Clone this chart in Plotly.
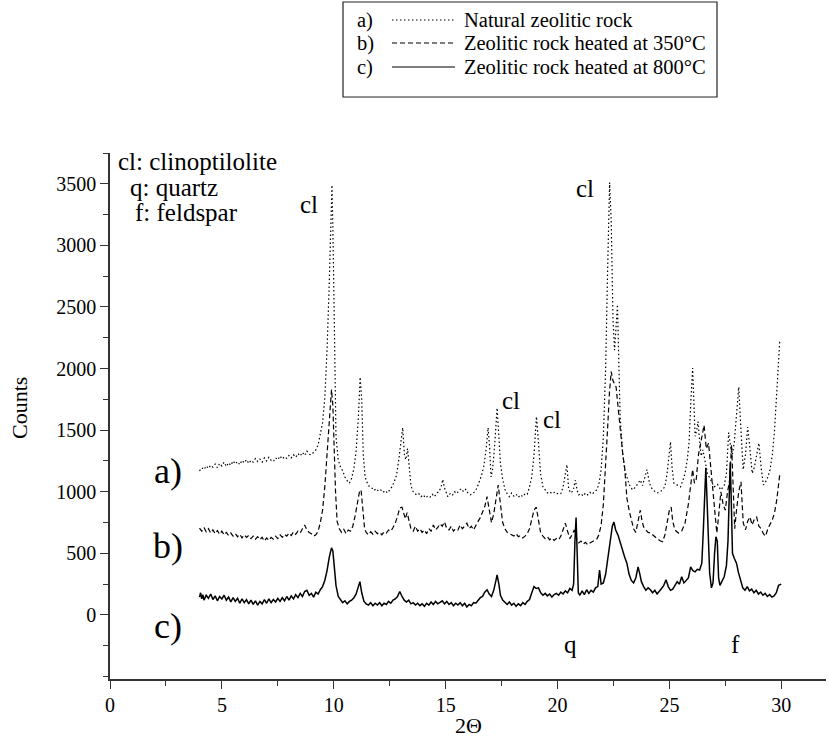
import plotly.graph_objects as go

# ---------------- data ----------------
# a) Natural zeolitic rock (dotted)
x_a = [4.0,4.1,4.2,4.3,4.4,4.5,4.6,4.7,4.8,4.9,5.0,5.1,5.2,5.3,5.4,5.5,5.6,5.7,5.8,5.9,
       6.0,6.1,6.2,6.3,6.4,6.5,6.6,6.7,6.8,6.9,7.0,7.1,7.2,7.3,7.4,7.5,7.6,7.7,7.8,7.9,
       8.0,8.1,8.2,8.3,8.4,8.5,8.6,8.7,8.8,8.9,9.0,9.1,9.2,9.3,9.4,9.5,9.6,9.7,9.8,9.88,
       9.92,9.96,10.0,10.05,10.1,10.2,10.3,10.4,10.5,10.6,10.7,10.8,10.9,11.0,11.1,11.18,11.25,11.32,11.4,11.5,
       11.6,11.7,11.8,11.9,12.0,12.1,12.2,12.3,12.4,12.5,12.6,12.7,12.8,12.9,13.0,13.08,13.16,13.22,13.3,13.38,
       13.45,13.55,13.7,13.8,13.9,14.0,14.1,14.2,14.3,14.4,14.5,14.6,14.7,14.8,14.87,14.95,15.05,15.1,15.2,15.3,
       15.4,15.5,15.6,15.7,15.8,15.9,16.0,16.1,16.2,16.3,16.4,16.5,16.6,16.7,16.8,16.9,16.97,17.03,17.1,17.2,
       17.3,17.38,17.45,17.55,17.65,17.75,17.85,17.95,18.05,18.15,18.25,18.35,18.45,18.55,18.65,18.75,18.85,18.95,19.06,19.15,
       19.24,19.35,19.45,19.55,19.65,19.75,19.85,19.95,20.05,20.15,20.25,20.35,20.42,20.5,20.6,20.7,20.8,20.88,20.95,21.05,
       21.15,21.25,21.35,21.45,21.55,21.65,21.75,21.85,21.95,22.05,22.15,22.24,22.33,22.4,22.48,22.55,22.62,22.68,22.74,22.8,
       22.9,23.0,23.1,23.2,23.35,23.5,23.6,23.7,23.8,23.9,24.0,24.08,24.16,24.3,24.45,24.6,24.7,24.8,24.9,25.05,
       25.12,25.2,25.35,25.5,25.6,25.7,25.8,25.88,25.95,26.04,26.1,26.15,26.22,26.28,26.35,26.42,26.5,26.6,26.7,26.85,
       27.0,27.15,27.3,27.45,27.55,27.65,27.72,27.8,27.9,28.0,28.1,28.17,28.24,28.3,28.4,28.5,28.6,28.7,28.8,28.9,
       29.0,29.1,29.2,29.3,29.4,29.5,29.6,29.7,29.8,29.93,30.0]
y_a = [1170,1195,1180,1210,1190,1215,1200,1225,1195,1230,1210,1240,1205,1235,1215,1250,1225,1245,1220,1255,
       1235,1260,1230,1255,1240,1270,1245,1265,1240,1275,1250,1280,1255,1245,1275,1260,1290,1265,1285,1270,
       1295,1275,1300,1280,1310,1290,1320,1295,1330,1305,1300,1325,1340,1380,1460,1560,1760,2150,2700,3300,
       3490,3150,2600,1900,1450,1260,1200,1170,1120,1090,1070,1110,1190,1330,1600,1930,1750,1300,1120,1070,
       1040,1030,1010,1025,1005,1015,995,1010,990,1015,1040,1080,1130,1250,1420,1520,1300,1260,1350,1200,
       1050,1000,975,985,960,975,950,965,955,980,960,990,1000,1040,1100,1030,980,960,985,970,
       1000,985,1010,1025,1000,1020,990,975,985,1000,1030,1080,1130,1200,1330,1520,1350,1120,1180,1400,
       1680,1450,1230,1100,1020,985,960,990,965,980,955,975,960,985,980,1040,1120,1300,1610,1400,
       1150,1040,1010,990,1000,985,995,980,990,985,1040,1150,1220,1020,990,1010,1095,1010,975,985,
       965,990,975,995,980,1000,1015,1060,1180,1450,1990,2800,3510,3200,2400,2150,2350,2520,2050,1610,
       1340,1180,1120,1060,1015,1040,1070,1095,1050,1120,1180,1100,1040,1010,990,1000,1020,1040,1150,1405,
       1200,1070,1055,1040,1090,1150,1260,1400,1700,2005,1700,1450,1500,1570,1420,1290,1340,1250,1150,1095,
       1040,1060,1015,1050,1150,1480,1370,1285,1400,1650,1850,1600,1300,1180,1300,1525,1350,1150,1200,1300,
       1395,1200,1055,1080,1120,1180,1300,1500,1800,2215,2230]

# b) Zeolitic rock heated at 350 C (dashed)
x_b = [4.0,4.1,4.2,4.3,4.4,4.5,4.6,4.7,4.8,4.9,5.0,5.1,5.2,5.3,5.4,5.5,5.6,5.7,5.8,5.9,
       6.0,6.1,6.2,6.3,6.4,6.5,6.6,6.7,6.8,6.9,7.0,7.1,7.2,7.3,7.4,7.5,7.6,7.7,7.8,7.9,
       8.0,8.1,8.2,8.3,8.4,8.5,8.6,8.7,8.8,8.9,9.0,9.1,9.2,9.3,9.4,9.5,9.6,9.7,9.8,9.9,
       9.96,10.02,10.08,10.15,10.25,10.35,10.45,10.55,10.65,10.75,10.85,10.95,11.05,11.15,11.22,11.3,11.38,11.45,11.55,11.65,
       11.75,11.85,11.95,12.05,12.15,12.25,12.35,12.45,12.55,12.65,12.75,12.85,12.95,13.05,13.12,13.2,13.28,13.36,13.45,13.55,
       13.65,13.75,13.85,13.95,14.05,14.15,14.25,14.35,14.45,14.55,14.65,14.75,14.85,14.95,15.05,15.15,15.25,15.35,15.45,15.55,
       15.65,15.75,15.85,15.95,16.05,16.15,16.25,16.35,16.45,16.55,16.65,16.75,16.85,16.95,17.05,17.15,17.25,17.35,17.45,17.55,
       17.65,17.75,17.85,17.95,18.05,18.15,18.25,18.35,18.45,18.55,18.65,18.75,18.85,18.95,19.05,19.15,19.25,19.35,19.45,19.55,
       19.65,19.75,19.85,19.95,20.05,20.15,20.25,20.35,20.45,20.55,20.65,20.75,20.85,20.95,21.05,21.15,21.25,21.35,21.45,21.55,
       21.65,21.75,21.85,21.95,22.05,22.15,22.25,22.32,22.4,22.48,22.55,22.62,22.7,22.78,22.85,22.92,23.0,23.1,23.2,23.3,
       23.4,23.5,23.6,23.7,23.78,23.85,23.95,24.05,24.16,24.3,24.45,24.6,24.7,24.8,24.9,25.0,25.08,25.15,25.25,25.4,
       25.55,25.7,25.85,25.95,26.04,26.12,26.2,26.3,26.45,26.55,26.65,26.75,26.85,26.95,27.05,27.12,27.2,27.3,27.4,27.5,
       27.6,27.7,27.78,27.85,27.92,28.0,28.1,28.2,28.3,28.4,28.5,28.6,28.7,28.8,28.9,29.0,29.1,29.2,29.3,29.4,
       29.5,29.6,29.7,29.8,29.93,30.0]
y_b = [705,680,710,675,700,665,690,660,685,655,680,650,670,645,665,640,660,635,655,625,
       650,630,645,620,640,615,635,610,630,600,625,605,630,615,640,620,650,630,655,640,
       665,645,675,655,680,665,700,730,690,670,660,640,650,680,750,850,1040,1300,1600,1830,
       1700,1300,1000,760,700,670,695,660,690,680,720,800,900,1000,1015,850,700,670,650,675,
       655,680,660,670,650,675,665,690,680,710,745,800,870,875,820,780,830,760,700,680,
       720,680,700,670,690,660,700,680,730,690,710,740,720,755,700,690,720,680,700,690,
       730,700,720,745,700,720,690,730,760,790,830,880,960,860,750,820,950,1055,900,750,
       700,670,660,650,640,660,635,645,625,640,660,700,770,850,875,780,665,640,620,635,
       610,625,605,620,610,640,690,745,680,620,650,690,620,585,600,575,590,570,585,595,
       600,615,650,730,900,1180,1550,1800,1975,1900,1880,1850,1700,1560,1400,1300,1200,950,850,760,
       700,670,760,850,760,715,690,670,665,640,620,600,595,650,745,850,875,760,690,665,
       680,745,900,1070,1180,1070,1100,1300,1450,1540,1350,1395,1200,1000,800,665,800,1000,900,850,
       1000,1100,1380,1100,700,850,1000,1080,750,690,760,795,730,780,795,720,700,660,640,700,
       740,770,830,935,1135,1140]

# c) Zeolitic rock heated at 800 C (solid)
x_c = [4.0,4.05,4.1,4.15,4.2,4.3,4.4,4.5,4.6,4.7,4.8,4.9,5.0,5.1,5.2,5.3,5.4,5.5,5.6,5.7,
       5.8,5.9,6.0,6.1,6.2,6.3,6.4,6.5,6.6,6.7,6.8,6.9,7.0,7.1,7.2,7.3,7.4,7.5,7.6,7.7,
       7.8,7.9,8.0,8.1,8.2,8.3,8.4,8.5,8.6,8.7,8.8,8.9,9.0,9.1,9.2,9.3,9.4,9.5,9.6,9.7,
       9.8,9.9,9.96,10.02,10.1,10.2,10.3,10.4,10.5,10.6,10.7,10.8,10.9,11.0,11.1,11.17,11.25,11.35,11.45,11.55,
       11.65,11.75,11.85,11.95,12.05,12.15,12.25,12.35,12.45,12.55,12.65,12.75,12.85,12.95,13.05,13.15,13.25,13.35,13.45,13.55,
       13.65,13.75,13.85,13.95,14.05,14.15,14.25,14.35,14.45,14.55,14.65,14.75,14.85,14.95,15.05,15.15,15.25,15.35,15.45,15.55,
       15.65,15.75,15.85,15.95,16.05,16.15,16.25,16.35,16.45,16.55,16.65,16.75,16.85,16.95,17.05,17.15,17.25,17.3,17.38,17.45,
       17.55,17.65,17.75,17.85,17.95,18.05,18.15,18.25,18.35,18.45,18.55,18.65,18.75,18.85,18.95,19.05,19.15,19.25,19.35,19.45,
       19.55,19.65,19.75,19.85,19.95,20.05,20.15,20.25,20.35,20.45,20.55,20.65,20.72,20.78,20.83,20.88,20.93,21.0,21.1,21.2,
       21.3,21.4,21.5,21.6,21.7,21.8,21.88,21.95,22.05,22.15,22.25,22.35,22.45,22.52,22.6,22.7,22.8,22.9,23.0,23.1,
       23.2,23.3,23.4,23.5,23.6,23.67,23.75,23.85,23.95,24.05,24.15,24.25,24.35,24.45,24.55,24.65,24.75,24.85,24.95,25.05,
       25.15,25.25,25.35,25.45,25.55,25.65,25.75,25.85,25.95,26.05,26.15,26.25,26.35,26.45,26.52,26.58,26.63,26.68,26.74,26.8,
       26.88,26.95,27.02,27.08,27.14,27.2,27.26,27.35,27.45,27.55,27.62,27.68,27.72,27.77,27.82,27.9,28.0,28.08,28.18,28.28,
       28.38,28.48,28.58,28.68,28.78,28.88,28.98,29.08,29.18,29.28,29.38,29.48,29.58,29.68,29.78,29.88,30.0]
y_c = [145,180,130,165,120,160,135,170,125,155,115,150,130,160,120,145,105,140,110,135,
       95,130,100,125,90,120,85,115,80,110,90,125,95,130,100,125,105,135,110,140,
       115,150,120,155,130,165,140,175,150,190,200,160,175,145,185,170,205,230,280,360,
       470,545,520,380,240,150,120,100,115,90,110,120,140,170,230,270,180,110,90,80,
       100,75,95,80,100,75,95,85,110,95,120,130,150,190,150,120,105,120,90,100,
       80,95,75,90,70,95,80,105,85,110,90,100,115,90,110,85,100,75,95,80,
       100,75,95,65,85,75,100,95,120,140,150,185,205,170,150,200,280,325,250,160,
       120,100,85,105,80,95,70,90,75,100,85,110,125,180,230,215,220,180,160,175,
       155,170,145,165,175,160,185,170,195,180,215,200,250,600,790,500,180,160,195,165,
       205,175,200,185,220,230,365,250,260,330,450,600,720,755,690,650,585,530,470,420,
       330,280,260,300,390,340,270,230,200,220,205,180,200,170,190,215,240,285,230,200,
       210,240,270,250,310,260,285,300,390,360,350,370,365,420,700,1050,1195,950,530,340,
       220,260,500,635,600,300,240,270,310,400,600,1000,1240,900,500,460,420,350,280,220,
       200,230,195,210,180,200,170,185,160,175,150,165,145,155,180,240,250]

# tick values
x_ticks = [0, 5, 10, 15, 20, 25, 30]
y_ticks = [0, 500, 1000, 1500, 2000, 2500, 3000, 3500]

# labels
legend_tags = ["a)", "b)", "c)"]
legend_names = ["Natural zeolitic rock", "Zeolitic rock heated at 350°C", "Zeolitic rock heated at 800°C"]
key_lines = ["cl: clinoptilolite", "q: quartz", "f: feldspar"]
peak_labels = ["cl", "cl", "cl", "cl", "q", "f"]
peak_x = [8.9, 21.25, 17.9, 19.75, 20.6, 27.95]
peak_y = [3330, 3460, 1740, 1590, -240, -240]
trace_tags_x = [2.6, 2.6, 2.6]
trace_tags_y = [1170, 560, -90]

# ---------------- layout geometry ----------------
W, H = 828, 737
L, R, T, B = 110, 2, 153, 58
XMAX = 32.0
YMIN, YMAX = -520, 3750

def fx(p):
    return (p - L) / (W - L - R)

def fy(p):
    return (H - B - p) / (H - T - B)

FONT = "Liberation Serif"
DASHES = ["1.5px,2.5px", "5px,3px", "solid"]
WIDTHS = [1.2, 1.2, 1.5]

fig = go.Figure()
for xs, ys, d, w in zip([x_a, x_b, x_c], [y_a, y_b, y_c], DASHES, WIDTHS):
    fig.add_trace(go.Scatter(x=xs, y=ys, mode="lines",
                             line=dict(color="black", width=w, dash=d),
                             showlegend=False, hoverinfo="skip"))

axis_common = dict(showline=True, linecolor="#333", linewidth=1.5, showgrid=False,
                   zeroline=False, ticks="outside", ticklen=8, tickwidth=1.3,
                   tickcolor="#333", tickfont=dict(family=FONT, size=20, color="black"))

fig.update_layout(
    width=W, height=H,
    margin=dict(l=L, r=R, t=T, b=B, pad=0),
    plot_bgcolor="white", paper_bgcolor="white",
    xaxis=dict(range=[0, XMAX], tickvals=x_ticks, ticklabelstandoff=-1,
               minor=dict(dtick=2.5, tick0=0, ticklen=5, ticks="outside", tickcolor="#333", tickwidth=1.3),
               **axis_common),
    yaxis=dict(range=[YMIN, YMAX], tickvals=y_ticks, ticklabelstandoff=0,
               minor=dict(dtick=250, tick0=0, ticklen=5, ticks="outside", tickcolor="#333", tickwidth=1.3),
               **axis_common),
)

ann = []
# axis titles
ann.append(dict(text="2Θ", x=fx(468), y=fy(725), xref="paper", yref="paper",
                xanchor="center", yanchor="middle",
                showarrow=False, font=dict(family=FONT, size=22, color="black")))
ann.append(dict(text="Counts", x=fx(19), y=fy(408), xref="paper", yref="paper", textangle=-90,
                xanchor="center", yanchor="middle",
                showarrow=False, font=dict(family=FONT, size=22, color="black")))

# key text top-left
key_left = [116, 128, 133]
key_y = [161, 187, 212]
for t, xl, yy in zip(key_lines, key_left, key_y):
    ann.append(dict(text=t, x=fx(xl), y=fy(yy), xref="paper", yref="paper",
                    xanchor="left", yanchor="middle",
                    showarrow=False, font=dict(family=FONT, size=25, color="black")))

# peak labels
for t, xx, yy in zip(peak_labels, peak_x, peak_y):
    ann.append(dict(text=t, x=xx, y=yy, xref="x", yref="y", showarrow=False,
                    xanchor="center", yanchor="middle",
                    font=dict(family=FONT, size=25, color="black")))

# a) b) c) trace tags
for t, xx, yy in zip(legend_tags, trace_tags_x, trace_tags_y):
    ann.append(dict(text=t, x=xx, y=yy, xref="x", yref="y", showarrow=False,
                    xanchor="center", yanchor="middle",
                    font=dict(family=FONT, size=36, color="black")))

# manual legend
box = (343, 2, 717, 97)
rows = [20, 43, 67]
shapes = [dict(type="rect", xref="paper", yref="paper",
               x0=fx(box[0]), x1=fx(box[2]), y0=fy(box[1]), y1=fy(box[3]),
               line=dict(color="#222", width=1.2), fillcolor="white", layer="below")]
for tag, name, ry, d in zip(legend_tags, legend_names, rows, DASHES):
    ann.append(dict(text=tag, x=fx(355), y=fy(ry), xref="paper", yref="paper",
                    xanchor="left", yanchor="middle",
                    showarrow=False, font=dict(family=FONT, size=20.5, color="black")))
    ann.append(dict(text=name, x=fx(462), y=fy(ry), xref="paper", yref="paper",
                    xanchor="left", yanchor="middle",
                    showarrow=False, font=dict(family=FONT, size=20.5, color="black")))
    shapes.append(dict(type="line", xref="paper", yref="paper",
                       x0=fx(392), x1=fx(455), y0=fy(ry), y1=fy(ry),
                       line=dict(color="black", width=1.2, dash=d)))

fig.update_layout(annotations=ann, shapes=shapes)
fig.write_html("out.html", config={"displayModeBar": False},
               post_script="document.body.style.margin='0px';")
